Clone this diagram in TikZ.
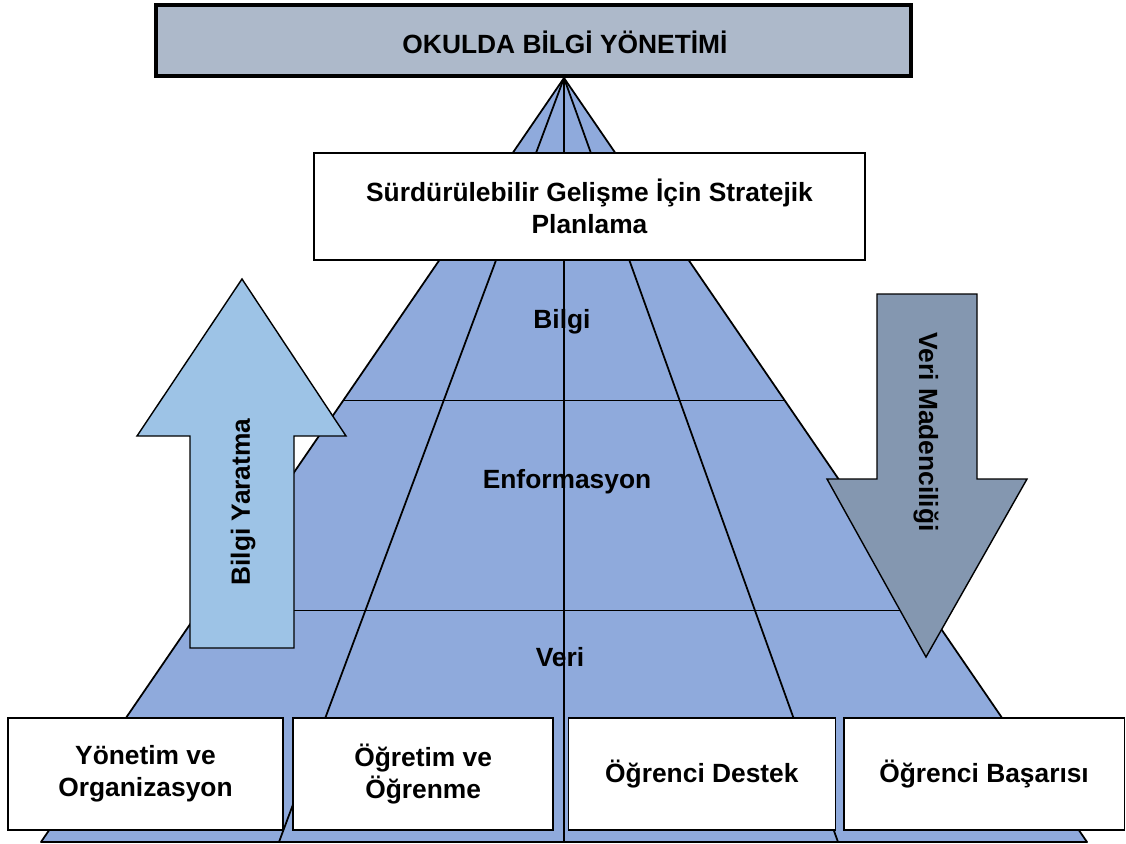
\documentclass[tikz,border=0pt]{standalone}
\usepackage{fontspec}
\setmainfont{Liberation Sans}
\usepackage{tikz}
\usetikzlibrary{positioning, calc, backgrounds}

\definecolor{pyrblue}{HTML}{8FAADC}
\definecolor{upblue}{HTML}{9DC3E6}
\definecolor{downgray}{HTML}{8497B0}
\definecolor{titlegray}{HTML}{ADB9CA}

\begin{document}
\begin{tikzpicture}[
        x=0.02cm, y=-0.02cm,
        font=\bfseries\fontsize{15}{18.2}\selectfont,
        % Styles
        pyr_face/.style={fill=pyrblue, draw=black, line width=1pt, line join=round},
        pyr_line/.style={draw=black, line width=1pt},
        box/.style={draw=black, fill=white, line width=1pt, align=center, inner sep=0pt},
        title_box/.style={draw=black, fill=titlegray, line width=2.3pt, inner sep=0pt},
        big_arrow/.style={draw=black, line width=0.8pt, fill=#1},
        lbl/.style={inner sep=1pt, align=center}
    ]
    \useasboundingbox (0,0) rectangle (1126,843);

    % Pyramid
    \coordinate (apex) at (564,78);
    \coordinate (base_l) at (41,842);
    \coordinate (base_r) at (1087,842);
    \coordinate (b1) at (279,842);
    \coordinate (b2) at (564,842);
    \coordinate (b3) at (838,842);

    \draw[pyr_face] (apex) -- (base_r) -- (base_l) -- cycle;
    \draw[pyr_line] (apex) -- (b1);
    \draw[pyr_line] (apex) -- (b2);
    \draw[pyr_line] (apex) -- (b3);
    \draw[pyr_line] ($(apex)!0.422!(base_l)$) -- ($(apex)!0.422!(base_r)$);
    \draw[pyr_line] ($(apex)!0.697!(base_l)$) -- ($(apex)!0.697!(base_r)$);

    % Layer labels
    \node[lbl] (bilgi) at (562,322) {Bilgi};
    \node[lbl] (enformasyon) at (567,482) {Enformasyon};
    \node[lbl] (veri) at (560,657) {Veri};

    % Top nodes
    \node[title_box, minimum width=15.1cm, minimum height=1.42cm] (title) at (533.5,40.5) {};
    \node[lbl] (title_txt) at (565,42) {OKULDA BİLGİ YÖNETİMİ};
    \node[box, minimum width=11.02cm, minimum height=2.14cm] (strateji) at (589.5,206.5) {Sürdürülebilir Gelişme İçin Stratejik\\Planlama};

    % Side arrows
    \draw[big_arrow=upblue] (242,279) -- (346,436) -- (294,436) -- (294,648) -- (190,648) -- (190,436) -- (137,436) -- cycle;
    \node[lbl, rotate=90] (yaratma) at (243,502) {Bilgi Yaratma};
    \draw[big_arrow=downgray] (877,294) -- (977,294) -- (977,479) -- (1027,479) -- (926,657) -- (827,479) -- (877,479) -- cycle;
    \node[lbl, rotate=-90] (madencilik) at (926,432) {Veri Madenciliği};

    % Bottom row
    \node[box, minimum width=5.5cm, minimum height=2.24cm] (yonetim) at (145.5,774) {Yönetim ve\\Organizasyon};
    \node[box, minimum width=5.2cm, minimum height=2.24cm, right=0.17cm of yonetim] (ogretim) {Öğretim ve\\Öğrenme};
    \node[box, minimum width=5.34cm, minimum height=2.24cm, right=0.27cm of ogretim] (destek) {Öğrenci Destek};
    \node[box, minimum width=5.62cm, minimum height=2.24cm, right=0.13cm of destek] (basari) {Öğrenci Başarısı};

\end{tikzpicture}
\end{document}
